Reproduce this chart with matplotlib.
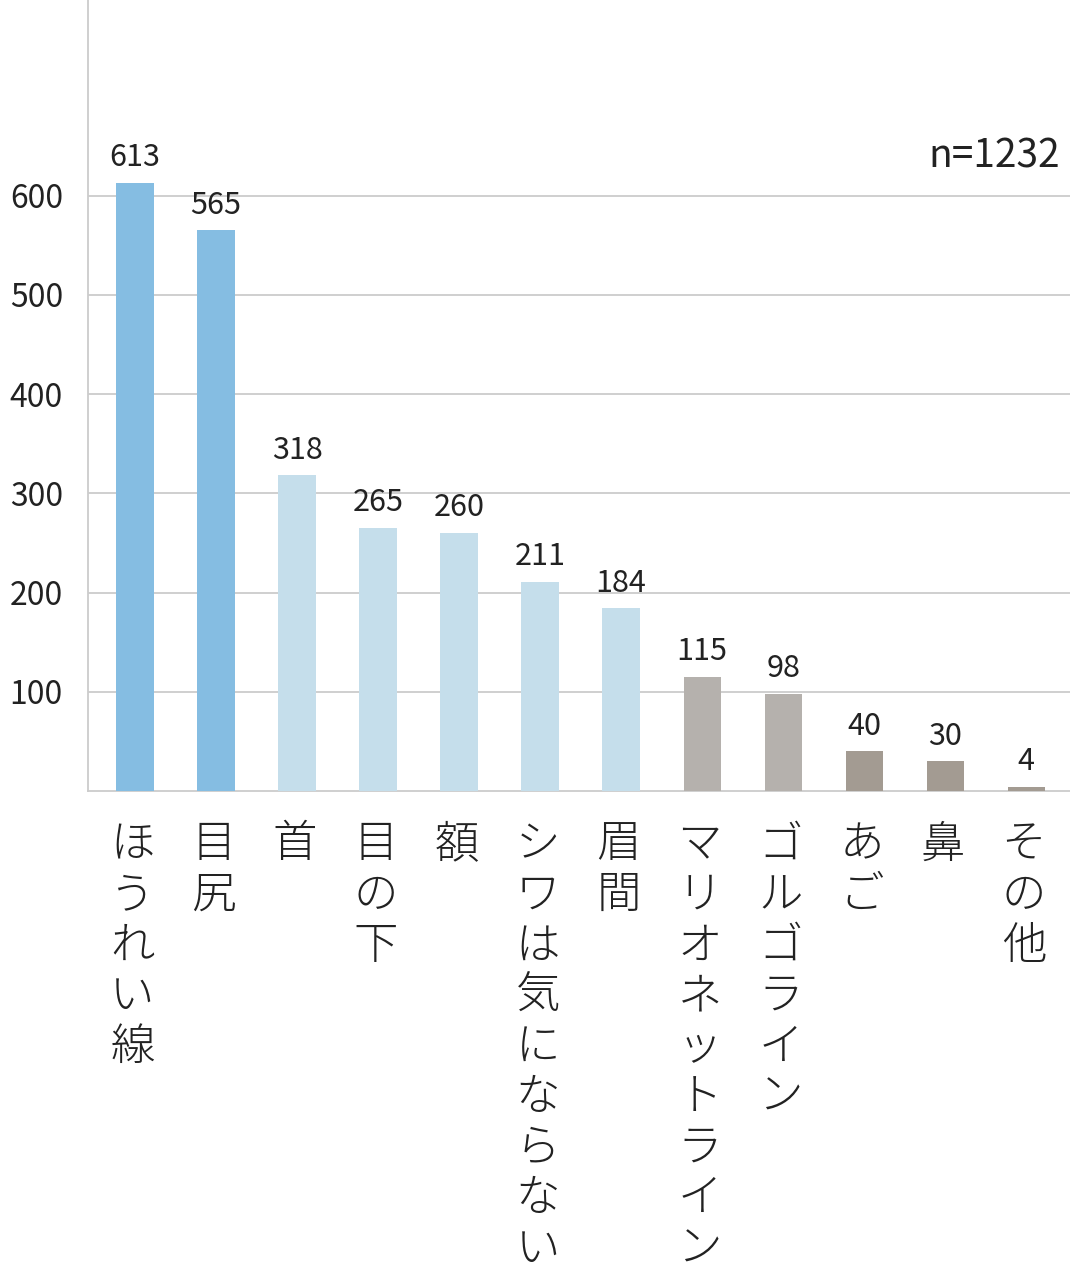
import matplotlib
matplotlib.use('Agg')
import matplotlib.pyplot as plt
import matplotlib.transforms as mtransforms

plt.rcParams['font.family'] = ['Noto Sans CJK JP', 'DejaVu Sans']

# data
labels = ['ほうれい線', '目尻', '首', '目の下', '額', 'シワは気にならない', '眉間',
          'マリオネットライン', 'ゴルゴライン', 'あご', '鼻', 'その他']
counts = [613, 565, 318, 265, 260, 211, 184, 115, 98, 40, 30, 4]
colors = ['#85bde2'] * 2 + ['#c5deeb'] * 5 + ['#b5b1ad'] * 2 + ['#a39b92'] * 3
yticks = [100, 200, 300, 400, 500, 600]
n_total = 1232

W, H = 1070, 1277
fig = plt.figure(figsize=(W / 100, H / 100), dpi=100)
ax = fig.add_axes([88 / W, 1 - 791 / H, 1 - 88 / W, 791 / H])

x = list(range(len(counts)))
ax.bar(x, counts, width=0.46, color=colors, zorder=3)

ax.set_xlim(-0.58, 11.54)
ax.set_ylim(0, 797)
ax.set_yticks(yticks)
ax.set_xticks([])
ax.grid(axis='y', color='#cccccc', linewidth=1.3, zorder=0)
ax.tick_params(axis='y', length=0, pad=18, labelsize=23, labelcolor='#222222')

for s in ['top', 'right']:
    ax.spines[s].set_visible(False)
ax.spines['left'].set_color('#cccccc')
ax.spines['bottom'].set_color('#cccccc')
ax.spines['left'].set_linewidth(1.3)
ax.spines['bottom'].set_linewidth(1.3)

# value labels
for xi, v in zip(x, counts):
    ax.annotate(str(v), (xi, v), xytext=(0, 7), textcoords='offset points',
                ha='center', va='bottom', fontsize=22, color='#222222')

ax.text(0.99, 1 - 157 / 791, f'n={n_total}', transform=ax.transAxes,
        ha='right', va='center', fontsize=28, color='#222222')

# vertical category labels, one character per row
trans = mtransforms.blended_transform_factory(ax.transData, fig.transFigure)
for xi, lab in zip(x, labels):
    for i, ch in enumerate(lab):
        yc = 1 - (845 + 50.5 * i) / H
        ax.text(xi - 0.03, yc, ch, transform=trans, ha='center', va='center',
                fontsize=32, fontweight='light', color='#222222', clip_on=False)

fig.savefig('out.png', dpi=100)
